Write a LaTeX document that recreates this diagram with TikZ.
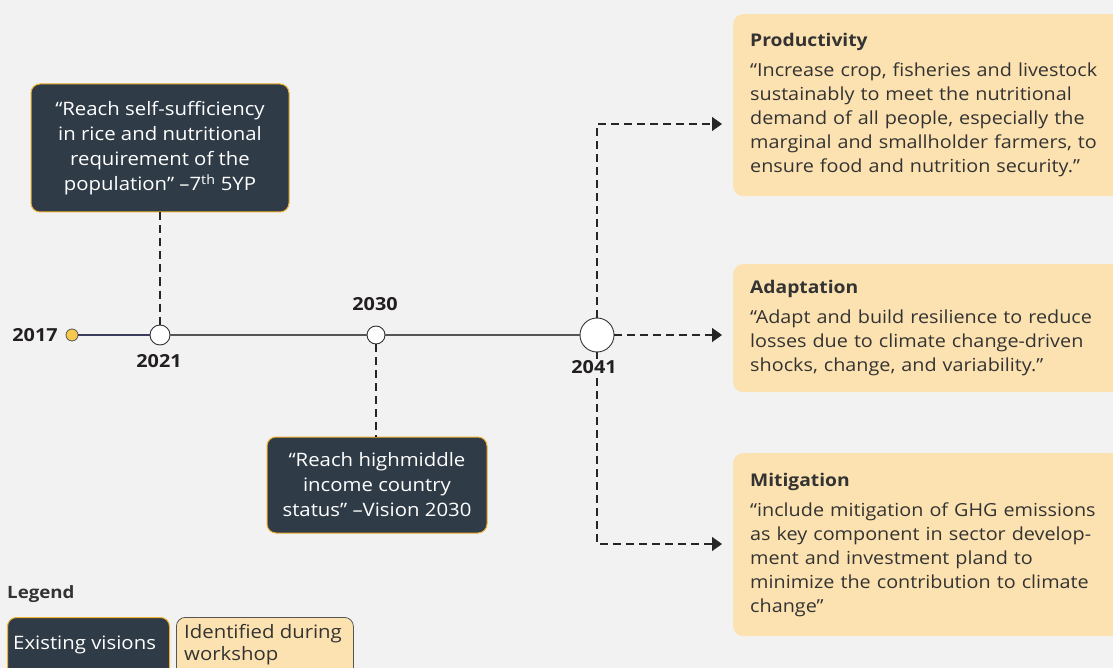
\documentclass[tikz,border=0pt]{standalone}
\usepackage{fontspec}
\setmainfont{Open Sans}[FakeStretch=1.1]
\usetikzlibrary{arrows.meta}
\definecolor{bg}{HTML}{F2F2F2}
\definecolor{darkbox}{HTML}{2F3B46}
\definecolor{orangeedge}{HTML}{F0B030}
\definecolor{tan}{HTML}{FCE2B0}
\definecolor{txt}{HTML}{333333}
\definecolor{yeartxt}{HTML}{231F20}
\definecolor{navy}{HTML}{3A3D5C}
\definecolor{gold}{HTML}{F6C94E}
\definecolor{lineg}{HTML}{555555}
\tikzset{
  vision/.style={draw=orangeedge, line width=1pt, fill=darkbox, rounded corners=9pt, text=white, align=center, font=\fontsize{18.5}{25}\selectfont, inner sep=0pt},
  goalbox/.style={fill=tan, rounded corners=10pt, text=txt, align=left, anchor=north west, inner xsep=17pt, inner ysep=0pt, font=\fontsize{18}{24}\selectfont, minimum width=420pt, text width=386pt},
  year/.style={font=\fontsize{18}{22}\selectfont\bfseries, text=yeartxt, inner sep=1pt},
  milestone/.style={circle, draw=txt, fill=white, line width=0.9pt, inner sep=0pt},
  conn/.style={draw=black!85, line width=1.4pt, dash pattern=on 8pt off 5pt},
  tip/.style={-{Triangle[length=10pt,width=14pt]}},
  heading/.style={font=\fontsize{17}{20}\selectfont\bfseries, text=txt}
}
\begin{document}
\begin{tikzpicture}[x=1pt,y=-1pt]
\useasboundingbox (0,0) rectangle (1113,668);
\clip (0,0) rectangle (1113,668);
\fill[bg] (0,0) rectangle (1113,668);

% timeline
\node[circle, fill=gold, draw=lineg, line width=0.8pt, minimum size=12pt, inner sep=0pt] (y17) at (72,335) {};
\node[milestone, minimum size=20pt] (y21) at (160,335) {};
\node[milestone, minimum size=18pt] (y30) at (376,335) {};
\node[milestone, minimum size=34pt] (y41) at (597,335) {};
\draw[navy, line width=1.1pt] (y17) -- (y21);
\draw[lineg, line width=1.1pt] (y21) -- (y30);
\draw[lineg, line width=1.1pt] (y30) -- (y41);

% existing visions
\node[vision, minimum width=258pt, minimum height=128pt] (v1) at (160,148)
  {“Reach self-sufficiency\\in rice and nutritional\\requirement of the\\population” –7\textsuperscript{th} 5YP};
\node[vision, minimum width=220pt, minimum height=96pt] (v2) at (377,485)
  {“Reach highmiddle\\income country\\status” –Vision 2030};
\draw[conn] (v1.south) -- (y21.north);
\draw[conn] (y30.south) -- (y30.south |- v2.north);

% goal boxes
\node[goalbox, minimum height=182pt] (prod) at (733,14)
  {{\fontsize{17.5}{20}\selectfont\bfseries Productivity}\\[6pt]
   “Increase crop, fisheries and livestock\\
   sustainably to meet the nutritional\\
   demand of all people, especially the\\
   marginal and smallholder farmers, to\\
   ensure food and nutrition security.”};
\node[goalbox, minimum height=128pt] (adap) at (733,264)
  {{\fontsize{17.5}{20}\selectfont\bfseries Adaptation}\\[6pt]
   “Adapt and build resilience to reduce\\
   losses due to climate change-driven\\
   shocks, change, and variability.”};
\node[goalbox, minimum height=183pt] (miti) at (733,453)
  {{\fontsize{17.5}{20}\selectfont\bfseries Mitigation}\\[6pt]
   “include mitigation of GHG emissions\\
   as key component in sector develop-\\
   ment and investment pland to\\
   minimize the contribution to climate\\
   change”};

\coordinate (pa) at (722,124);
\coordinate (aa) at (722,335);
\coordinate (ma) at (722,544);
\draw[conn, tip] (y41.north) |- (pa);
\draw[conn, tip] (y41.east) -- (aa);
\draw[conn, tip] (y41.south) |- (ma);

% year labels
\node[year] (l17) at (35,335) {2017};
\node[year] (l21) at (159,361) {2021};
\node[year] (l30) at (375,304) {2030};
\node[year, fill=bg] (l41) at (594,367) {2041};

% legend
\node[heading, anchor=west, inner sep=0pt] (leg) at (7,594) {Legend};
\node[vision, anchor=north west, minimum width=162pt, minimum height=70pt] (lex) at (7,617) {};
\node[text=white, font=\fontsize{18.5}{22}\selectfont, inner sep=0pt, anchor=west] (lext) at (13,645) {Existing visions};
\node[draw=lineg, line width=0.8pt, fill=tan, rounded corners=9pt, anchor=north west, minimum width=177pt, minimum height=70pt] (lid) at (176,617) {};
\node[text=txt, font=\fontsize{18.5}{22}\selectfont, align=left, inner sep=0pt, anchor=north west] (lidt) at (184,624) {Identified during\\workshop};
\end{tikzpicture}
\end{document}
